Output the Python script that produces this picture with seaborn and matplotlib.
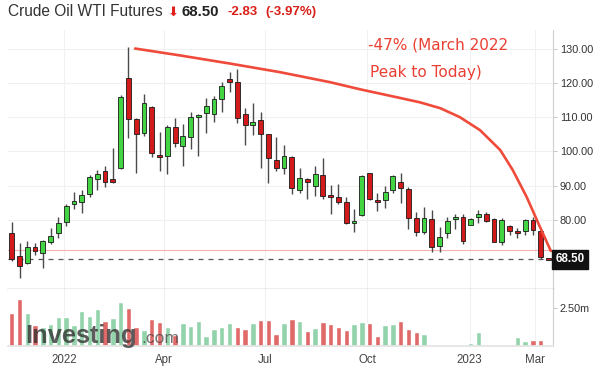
import numpy as np
import pandas as pd
import matplotlib
matplotlib.use("Agg")
import matplotlib.pyplot as plt
import matplotlib.transforms as mtransforms
import seaborn as sns

# weekly candles, week 0 = week of 2021-11-15
opens = [76.1, 69.5, 67.6, 72.2, 70.5, 73.7, 76.1, 79.5, 84.7, 85.3,
         87.6, 92.1, 94.3, 91.9, 95.3, 121.3, 109.6, 105.3, 113.0, 99.1,
         98.8, 107.0, 101.6, 104.1, 110.1, 111.3, 110.9, 115.2, 121.1, 120.2,
         110.8, 107.6, 109.2, 105.0, 97.5, 95.3, 98.5, 88.9, 92.1, 90.0,
         93.1, 87.3, 86.8, 85.3, 79.0, 81.5, 93.6, 85.8, 85.8, 88.9,
         91.2, 89.0, 80.5, 76.6, 80.2, 72.4, 76.1, 80.2, 80.8, 78.7,
         80.8, 81.9, 80.2, 73.7, 78.3, 76.9, 76.9, 80.0, 76.9, 68.9]
highs = [79.5, 73.2, 73.9, 73.2, 74.2, 77.6, 80.8, 84.7, 88.3, 88.9,
         93.1, 94.6, 95.9, 100.9, 116.4, 130.3, 109.8, 116.7, 113.2, 105.6,
         107.7, 109.8, 108.0, 111.6, 110.9, 115.5, 116.1, 120.3, 123.2, 123.9,
         112.6, 114.2, 111.6, 105.1, 104.3, 101.8, 98.7, 95.3, 92.4, 95.9,
         98.0, 90.2, 90.5, 86.8, 83.1, 93.1, 93.8, 87.8, 90.0, 93.1,
         93.8, 89.7, 82.4, 83.7, 82.9, 78.0, 81.0, 81.8, 81.8, 80.5,
         82.9, 82.4, 80.5, 80.5, 78.6, 77.6, 80.2, 80.8, 77.1, 68.9]
lows = [68.1, 63.0, 67.2, 69.8, 66.0, 73.0, 74.7, 78.3, 83.1, 82.2,
        86.8, 88.9, 89.7, 90.9, 94.8, 103.8, 93.8, 104.5, 98.3, 94.3,
        93.4, 101.2, 95.7, 100.6, 98.7, 105.5, 108.7, 111.6, 117.2, 108.4,
        101.9, 104.8, 95.3, 90.9, 94.4, 93.3, 87.5, 88.0, 86.0, 87.0,
        86.2, 81.7, 84.7, 78.8, 76.6, 81.3, 85.8, 82.5, 83.4, 87.8,
        85.1, 77.5, 75.3, 75.9, 70.8, 70.8, 74.7, 77.3, 73.0, 78.5,
        79.0, 79.5, 73.5, 72.7, 75.7, 74.7, 75.7, 75.7, 68.5, 68.3]
closes = [68.5, 66.6, 72.0, 71.0, 74.0, 75.4, 79.1, 84.1, 85.5, 87.3,
          92.6, 93.3, 91.2, 91.2, 115.8, 109.6, 105.0, 114.0, 99.6, 98.5,
          107.0, 102.5, 104.6, 109.9, 110.7, 113.3, 115.3, 119.1, 120.3, 109.8,
          107.7, 108.7, 105.0, 98.0, 95.1, 98.8, 89.4, 92.3, 91.2, 93.3,
          87.1, 86.6, 85.3, 79.0, 79.8, 92.8, 86.0, 85.2, 88.3, 92.8,
          89.4, 80.5, 76.6, 80.5, 72.1, 75.0, 79.7, 81.0, 74.0, 80.2,
          81.9, 79.7, 73.7, 80.0, 76.9, 76.3, 80.0, 77.1, 69.1, 68.5]
# volume in millions (None = not shown)
volumes = [2.14, 3.05, 2.14, 1.35, 1.25, 1.45, 1.92, 1.92, 1.40, 2.31,
           1.98, 2.40, 1.65, 1.85, 2.85, 2.46, 1.26, 1.05, 1.76, 1.59,
           1.22, 0.72, 1.52, 1.33, 1.65, 0.67, 1.09, 1.26, 1.52, 1.26,
           1.09, 1.52, 1.70, 1.70, 0.76, 1.52, 1.74, 1.65, 0.98, 1.16,
           1.59, 1.44, 1.26, 1.05, 1.42, 1.55, 1.48, 0.65, 1.37, 1.42,
           1.65, 1.09, 0.89, 0.76, None, None, None, None, None, 0.22,
           0.89, None, None, None, 0.05, 0.57, 0.33, 0.39, 0.39, None]
vol_dir = ['d', 'd', 'g', 'd', 'g', 'g', 'g', 'g', 'g', 'g',
           'g', 'g', 'd', 'g', 'g', 'd', 'd', 'g', 'd', 'd',
           'g', 'd', 'g', 'g', 'g', 'g', 'g', 'g', 'g', 'd',
           'd', 'g', 'd', 'd', 'd', 'g', 'd', 'g', 'd', 'g',
           'd', 'd', 'd', 'd', 'g', 'g', 'd', 'd', 'g', 'g',
           'd', 'd', 'd', 'g', 'd', 'g', 'g', 'g', 'd', 'g',
           'g', 'd', 'd', 'g', 'd', 'g', 'g', 'd', 'd', 'd']

last_price = 68.50
prev_close = 71.33
price_ticks = [80, 90, 100, 110, 120, 130]
tick_dates = ["2022-01-01", "2022-04-01", "2022-07-01", "2022-10-01", "2023-01-01", "2023-03-01"]
tick_labels = ["2022", "Apr", "Jul", "Oct", "2023", "Mar"]
start_week = pd.Timestamp("2021-11-15")

# hand-drawn trend annotation (week index, price)
trend_x = [15.85, 21.6, 28.1, 34.5, 40.9, 44.8, 49.9, 52.5, 55.1, 57.6,
           60.2, 62.8, 64.4, 66.2, 67.9, 69.3]
trend_y = [130.0, 128.0, 125.6, 123.1, 120.2, 118.1, 115.6, 114.3, 112.6, 110.0,
           106.2, 100.4, 94.6, 86.7, 78.0, 71.0]

GREEN = "#43d443"
RED = "#d2191b"
VOL_GREEN = "#93d3ab"
VOL_RED = "#e06a6a"

sns.set_theme(style="white")
plt.rcParams["font.family"] = ["Liberation Sans", "DejaVu Sans"]

df = pd.DataFrame({"open": opens, "high": highs, "low": lows, "close": closes,
                   "volume": pd.array(volumes, dtype="Float64"), "dir": vol_dir})
df["week"] = np.arange(len(df))
df["volume"] = df["volume"].astype(float) * 1e6

W, H = 600, 373
fig = plt.figure(figsize=(6, 3.73), dpi=100)
ax = fig.add_axes([8 / W, 1 - 289 / H, 545 / W, 259 / H])
axv = fig.add_axes([8 / W, 1 - 346 / H, 545 / W, 57 / H], sharex=ax)

xlim = (-0.48, 69.58)
tick_pos = [(pd.Timestamp(d) - start_week).days / 7 for d in tick_dates]

for a in (ax, axv):
    a.set_xticks(tick_pos)
    a.grid(True, axis="x", color="#f0f0f0", lw=0.8)
    a.set_axisbelow(True)
    for s in ("left", "top"):
        a.spines[s].set_visible(False)
    a.spines["right"].set_color("#cfcfcf")
    a.spines["right"].set_linewidth(0.8)
    a.yaxis.tick_right()
    a.tick_params(axis="y", length=3, width=0.6, color="#bbbbbb", pad=2,
                  labelsize=7.8, labelcolor="#333333")

# price panel
ax.grid(True, axis="y", color="#f0f0f0", lw=0.8)
ax.set_ylim(59.9, 135.4)
ax.set_yticks(price_ticks)
ax.set_yticklabels([f"{t:.2f}" for t in price_ticks])
ax.set_xlim(*xlim)
ax.tick_params(axis="x", length=0, labelbottom=False)
ax.spines["bottom"].set_color("#aaaaaa")
ax.spines["bottom"].set_linewidth(1.0)

ax.axhline(prev_close, color="#f5b3b3", lw=0.8, zorder=1)
ax.axhline(last_price, color="#555555", lw=0.9, ls=(0, (4, 4)), zorder=1)

x = df["week"].to_numpy()
o = df["open"].to_numpy()
c = df["close"].to_numpy()
up = c >= o
ax.vlines(x, df["low"], df["high"], color="#4a4a4a", lw=1.0, zorder=3)
body = np.abs(c - o)
min_h = 0.6
bottom = np.where(body < min_h, (o + c) / 2 - min_h / 2, np.minimum(o, c))
ax.bar(x, np.maximum(body, min_h), bottom=bottom, width=0.62,
       color=np.where(up, GREEN, RED), edgecolor="#1a1a1a", lw=0.6, zorder=4)

ax.plot(trend_x, trend_y, color="#ef4a3a", lw=1.9, solid_capstyle="round",
        solid_joinstyle="round", zorder=5)
ax.text(45.8, 131.0, "-47% (March 2022", color="#ea3f33", fontsize=11,
        family="DejaVu Sans", va="center", ha="left")
ax.text(46.1, 122.9, "Peak to Today)", color="#ea3f33", fontsize=11,
        family="DejaVu Sans", va="center", ha="left")

trans = mtransforms.blended_transform_factory(ax.transAxes, ax.transData)
ax.text(1.004, last_price, f"{last_price:.2f}", transform=trans, color="white",
        fontsize=8.3, fontweight="bold", va="center", ha="left",
        bbox=dict(boxstyle="square,pad=0.28", fc="#111111", ec="#111111"), zorder=6,
        clip_on=False)

# volume panel
vol = df.dropna(subset=["volume"])
sns.barplot(data=vol, x="week", y="volume", hue="dir", native_scale=True,
            palette={"g": VOL_GREEN, "d": VOL_RED}, width=0.7, saturation=1,
            dodge=False, legend=False, ax=axv, zorder=2)
axv.set_xlim(*xlim)
axv.set_ylim(0, 3.73e6)
axv.set_yticks([2.5e6])
axv.set_yticklabels(["2.50m"])
axv.set_xticks(tick_pos)
axv.set_xticklabels(tick_labels)
axv.set_xlabel("")
axv.set_ylabel("")
axv.tick_params(axis="x", length=0, labelsize=8.3, labelcolor="#444444", pad=6)
axv.spines["bottom"].set_color("#e4e4e4")

# watermark
fig.text(25 / W, 1 - 343 / H, "Investing", fontsize=18.3, fontweight="bold",
         color="#333333", alpha=0.8, va="baseline", ha="left")
fig.text(141 / W, 1 - 343 / H, ".com", fontsize=12.5,
         color="#444444", alpha=0.75, va="baseline", ha="left")

# header
fig.text(8 / W, 1 - 12 / H, "Crude Oil WTI Futures", fontsize=11.2, color="#333333",
         va="center", ha="left")
fig.text(168 / W, 1 - 12.5 / H, "\u2b07", fontsize=9.5, color="#e0201b",
         family="DejaVu Sans", va="center", ha="left")
fig.text(182 / W, 1 - 12 / H, "68.50", fontsize=10.8, fontweight="bold",
         color="#222222", va="center", ha="left")
fig.text(228 / W, 1 - 12 / H, "-2.83", fontsize=9.5, fontweight="bold",
         color="#d91e18", va="center", ha="left")
fig.text(265 / W, 1 - 12 / H, "(-3.97%)", fontsize=9.5, fontweight="bold",
         color="#d91e18", va="center", ha="left")

fig.savefig("out.png", dpi=100, facecolor="white")
